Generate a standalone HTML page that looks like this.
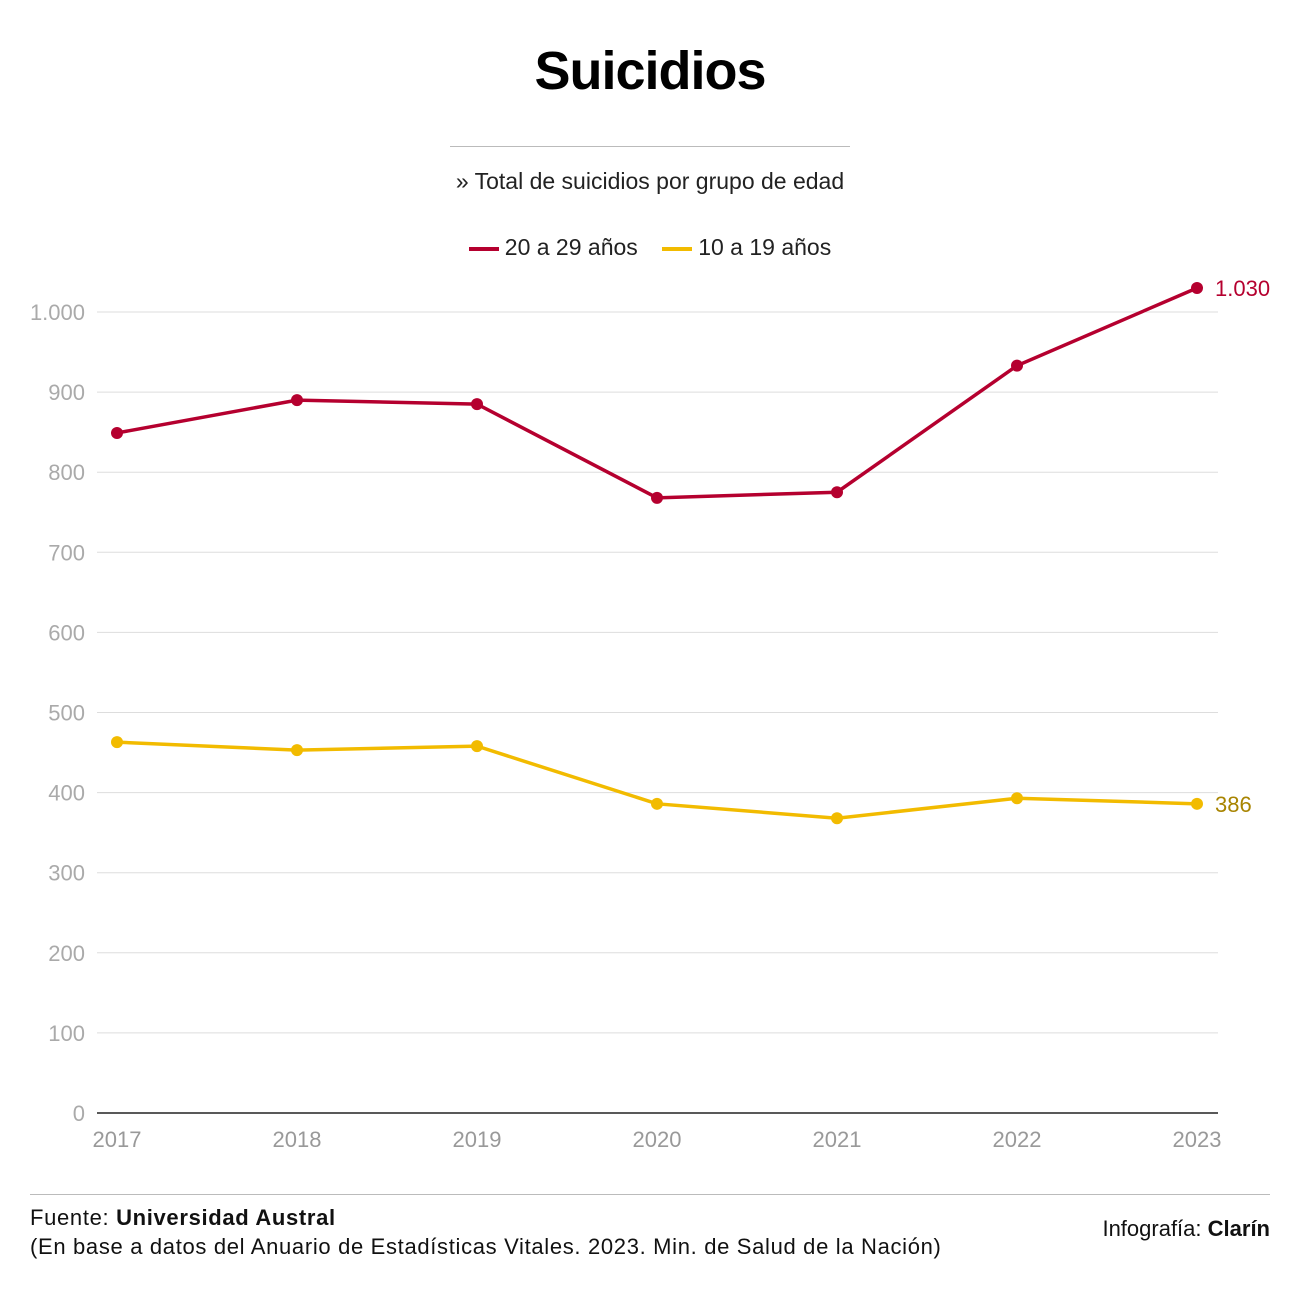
<!DOCTYPE html>
<html><head><meta charset="utf-8"><style>
body{margin:0;width:1300px;height:1300px;background:#fff;font-family:"Liberation Sans",sans-serif;overflow:hidden;position:relative}
.t{position:absolute}
</style></head><body>
<div class="t" style="left:0;width:1300px;top:40px;text-align:center;font-size:54px;font-weight:900;letter-spacing:-1px">Suicidios</div>
<div class="t" style="left:450px;width:400px;top:146px;border-top:1px solid #bbb"></div>
<div class="t" style="left:0;width:1300px;top:168px;text-align:center;font-size:23px;color:#222">» Total de suicidios por grupo de edad</div>
<div class="t" style="left:0;width:1300px;top:234px;text-align:center;font-size:23px;color:#222">
<span><span style="display:inline-block;width:30px;height:4px;background:#b5002f;vertical-align:middle;margin-right:6px"></span>20 a 29 años</span>
<span style="margin-left:18px"><span style="display:inline-block;width:30px;height:4px;background:#f2bb00;vertical-align:middle;margin-right:6px"></span>10 a 19 años</span>
</div>
<svg class="t" style="left:0;top:0" width="1300" height="1300" id="chart"></svg>
<div class="t" style="left:30px;width:1240px;top:1194px;border-top:1px solid #bbb"></div>
<div class="t" style="left:30px;top:1203px;font-size:22px;line-height:29px;color:#111;letter-spacing:0.67px">Fuente: <b>Universidad Austral</b><br>(En base a datos del Anuario de Estadísticas Vitales. 2023. Min. de Salud de la Nación)</div>
<div class="t" style="right:30px;top:1216px;font-size:22px;color:#111">Infografía: <b>Clarín</b></div>
<script>
const years=["2017","2018","2019","2020","2021","2022","2023"];
const s2029=[849,890,885,768,775,933,1030];
const s1019=[463,453,458,386,368,393,386];
const yTicks=[0,100,200,300,400,500,600,700,800,900,1000];
const yTickLabels=["0","100","200","300","400","500","600","700","800","900","1.000"];
const NS="http://www.w3.org/2000/svg",svg=document.getElementById('chart');
const x=i=>117+i*180, y=v=>1113-v*0.801;
function mk(t,a){const e=document.createElementNS(NS,t);for(const k in a)e.setAttribute(k,a[k]);svg.appendChild(e);return e;}
yTicks.forEach((v,i)=>{
 const g=mk('line',{x1:97,x2:1218,y1:y(v),y2:y(v),stroke:v==0?'#222':'#ddd','stroke-width':v==0?1.5:1});
 
 const t=mk('text',{x:85,y:y(v)+8,'text-anchor':'end','font-size':22,fill:'#aaa','font-family':'Liberation Sans'});
 t.textContent=yTickLabels[i];
});
years.forEach((yr,i)=>{
 const t=mk('text',{x:x(i),y:1147,'text-anchor':'middle','font-size':22,fill:'#999','font-family':'Liberation Sans'});
 t.textContent=yr;
});
function series(d,c,name,lc){
 const p=mk('polyline',{points:d.map((v,i)=>x(i)+','+y(v)).join(' '),fill:'none',stroke:c,'stroke-width':3.5});
 
 d.forEach((v,i)=>{const ci=mk('circle',{cx:x(i),cy:y(v),r:6,fill:c});
  });
 const l=d.length-1,t=mk('text',{x:x(l)+18,y:y(d[l])+8,'font-size':22,fill:lc,'font-family':'Liberation Sans'});
 t.textContent=d[l].toLocaleString('de-DE');
}
series(s2029,'#b5002f','series-20-29','#b5002f');
series(s1019,'#f2bb00','series-10-19','#a88400');
</script>
</body></html>
